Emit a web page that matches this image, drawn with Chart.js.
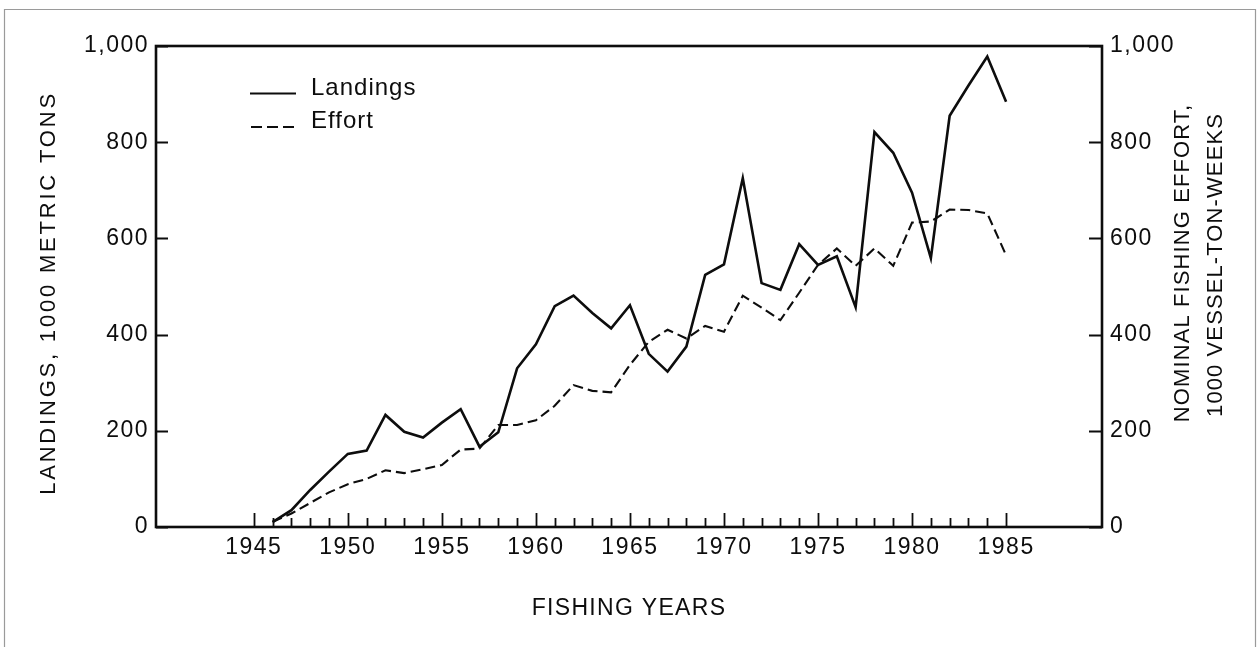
<!DOCTYPE html>
<html>
<head>
<meta charset="utf-8">
<script src="https://cdn.jsdelivr.net/npm/chart.js@4.4.1/dist/chart.umd.min.js"></script>
<style>
  html, body { margin: 0; padding: 0; background: #fff; }
  #wrap { width: 1257px; height: 647px; position: relative; }
</style>
</head>
<body>
<div id="wrap"><canvas id="c" width="1257" height="647"></canvas></div>
<script>
// ---- Data ----
const years = [1946,1947,1948,1949,1950,1951,1952,1953,1954,1955,
               1956,1957,1958,1959,1960,1961,1962,1963,1964,1965,
               1966,1967,1968,1969,1970,1971,1972,1973,1974,1975,
               1976,1977,1978,1979,1980,1981,1982,1983,1984,1985];
const landings = [10,35,77,115,152,159,233,198,186,217,
                  245,167,197,330,380,459,481,445,413,461,
                  360,323,375,524,546,725,507,493,588,545,
                  563,457,821,778,695,559,855,918,978,884];
const effort = [11,28,50,72,89,100,118,112,120,129,
                161,163,212,212,222,252,295,283,280,337,
                385,410,392,418,406,481,456,430,487,545,
                579,543,579,543,633,635,660,659,652,565];
const xTickLabels = [1945,1950,1955,1960,1965,1970,1975,1980,1985];
const xMinorTicks = [1945,1946,1947,1948,1949,1950,1951,1952,1953,1954,1955,1956,1957,1958,1959,1960,1961,1962,1963,1964,1965,1966,1967,1968,1969,1970,1971,1972,1973,1974,1975,1976,1977,1978,1979,1980,1981,1982,1983,1984,1985];
const yTickValues = [0,200,400,600,800,1000];
const leftTitle = "LANDINGS, 1000 METRIC TONS";
const rightTitle = ["NOMINAL FISHING EFFORT,", "1000 VESSEL-TON-WEEKS"];
const xTitle = "FISHING YEARS";
const seriesNames = ["Landings", "Effort"];

const INK = '#0d0d0d';
const FONT = "'Liberation Sans', Arial, Helvetica, sans-serif";

const toPts = (vals) => years.map((y, i) => ({x: y, y: vals[i]}));

const decor = {
  id: 'decor',
  beforeDraw(chart) {
    const ctx = chart.ctx;
    try { ctx.letterSpacing = '1.5px'; } catch (e) {}
    // faint scanned page border
    ctx.save();
    ctx.strokeStyle = '#9a9a9a';
    ctx.lineWidth = 1.2;
    ctx.beginPath();
    ctx.moveTo(4.5, 647); ctx.lineTo(4.5, 9.5); ctx.lineTo(1255.5, 9.5); ctx.lineTo(1255.5, 647);
    ctx.stroke();
    ctx.restore();
  },
  afterDraw(chart) {
    const ctx = chart.ctx;
    const a = chart.chartArea;
    const xs = chart.scales.x, yl = chart.scales.y, yr = chart.scales.y2;
    ctx.save();
    ctx.strokeStyle = INK;
    ctx.fillStyle = INK;
    // frame
    ctx.lineWidth = 2.6;
    ctx.strokeRect(a.left, a.top, a.right - a.left, a.bottom - a.top);
    // x ticks (inward)
    ctx.lineWidth = 1.8;
    ctx.beginPath();
    xMinorTicks.forEach(v => {
      const px = Math.round(xs.getPixelForValue(v)) + 0.5;
      const len = (v % 5 === 0) ? 14 : 9;
      ctx.moveTo(px, a.bottom);
      ctx.lineTo(px, a.bottom - len);
    });
    ctx.stroke();
    // y ticks (inward)
    ctx.lineWidth = 2;
    ctx.beginPath();
    yTickValues.forEach(v => {
      const py = Math.round(yl.getPixelForValue(v)) + 0.5;
      ctx.moveTo(a.left, py); ctx.lineTo(a.left + 12, py);
      const pr = Math.round(yr.getPixelForValue(v)) + 0.5;
      ctx.moveTo(a.right, pr); ctx.lineTo(a.right - 13, pr);
    });
    ctx.stroke();

    // titles
    ctx.textAlign = 'center';
    ctx.textBaseline = 'middle';
    ctx.font = `23px ${FONT}`;
    try { ctx.letterSpacing = '1.3px'; } catch (e) {}
    ctx.fillText(xTitle, (a.left + a.right) / 2, 609);

    ctx.save();
    ctx.translate(49, 293);
    ctx.rotate(-Math.PI / 2);
    ctx.font = `22px ${FONT}`;
    try { ctx.letterSpacing = '2.8px'; } catch (e) {}
    ctx.fillText(leftTitle, 0, 0);
    ctx.restore();

    ctx.save();
    ctx.font = `22px ${FONT}`;
    try { ctx.letterSpacing = '1.1px'; } catch (e) {}
    ctx.translate(1183, 263);
    ctx.rotate(-Math.PI / 2);
    ctx.fillText(rightTitle[0], 0, 0);
    ctx.restore();
    ctx.save();
    ctx.font = `22px ${FONT}`;
    try { ctx.letterSpacing = '1.1px'; } catch (e) {}
    ctx.translate(1216, 265);
    ctx.rotate(-Math.PI / 2);
    ctx.fillText(rightTitle[1], 0, 0);
    ctx.restore();

    // legend
    ctx.font = `24px ${FONT}`;
    try { ctx.letterSpacing = '1px'; } catch (e) {}
    ctx.textAlign = 'left';
    ctx.textBaseline = 'alphabetic';
    ctx.lineWidth = 2.2;
    ctx.beginPath();
    ctx.moveTo(250, 93.5); ctx.lineTo(296, 93.5);
    ctx.stroke();
    ctx.fillText(seriesNames[0], 311, 95);
    ctx.setLineDash([11, 5]);
    ctx.beginPath();
    ctx.moveTo(251, 127); ctx.lineTo(294, 127);
    ctx.stroke();
    ctx.setLineDash([]);
    ctx.fillText(seriesNames[1], 311, 128);
    ctx.restore();
  }
};

new Chart(document.getElementById('c'), {
  type: 'line',
  data: {
    datasets: [
      { label: seriesNames[0], data: toPts(landings), yAxisID: 'y',
        borderColor: INK, borderWidth: 2.6, pointRadius: 0, tension: 0, fill: false },
      { label: seriesNames[1], data: toPts(effort), yAxisID: 'y2',
        borderColor: INK, borderWidth: 2.1, borderDash: [10, 5], pointRadius: 0, tension: 0, fill: false }
    ]
  },
  options: {
    responsive: false,
    animation: false,
    events: [],
    layout: { padding: { top: 46, left: 0, right: 0, bottom: 0 } },
    plugins: { legend: { display: false }, tooltip: { enabled: false }, title: { display: false } },
    scales: {
      x: {
        type: 'linear', position: 'bottom', min: 1939.8, max: 1990.1,
        grid: { display: false, drawTicks: false },
        border: { display: false },
        ticks: { color: INK, padding: 7, font: { family: FONT, size: 23 }, maxRotation: 0, autoSkip: false,
                 callback: (v) => String(v) },
        afterBuildTicks: (s) => { s.ticks = xTickLabels.map(v => ({ value: v })); },
        afterFit: (s) => { s.height = 120; }
      },
      y: {
        type: 'linear', position: 'left', min: 0, max: 1000,
        grid: { display: false, drawTicks: false },
        border: { display: false },
        ticks: { color: INK, padding: 7, font: { family: FONT, size: 23 } },
        afterBuildTicks: (s) => { s.ticks = yTickValues.map(v => ({ value: v })); },
        afterFit: (s) => { s.width = 156; }
      },
      y2: {
        type: 'linear', position: 'right', min: 0, max: 1000,
        grid: { display: false, drawTicks: false },
        border: { display: false },
        ticks: { color: INK, padding: 8, font: { family: FONT, size: 23 } },
        afterBuildTicks: (s) => { s.ticks = yTickValues.map(v => ({ value: v })); },
        afterFit: (s) => { s.width = 155; }
      }
    }
  },
  plugins: [decor]
});
</script>
</body>
</html>
